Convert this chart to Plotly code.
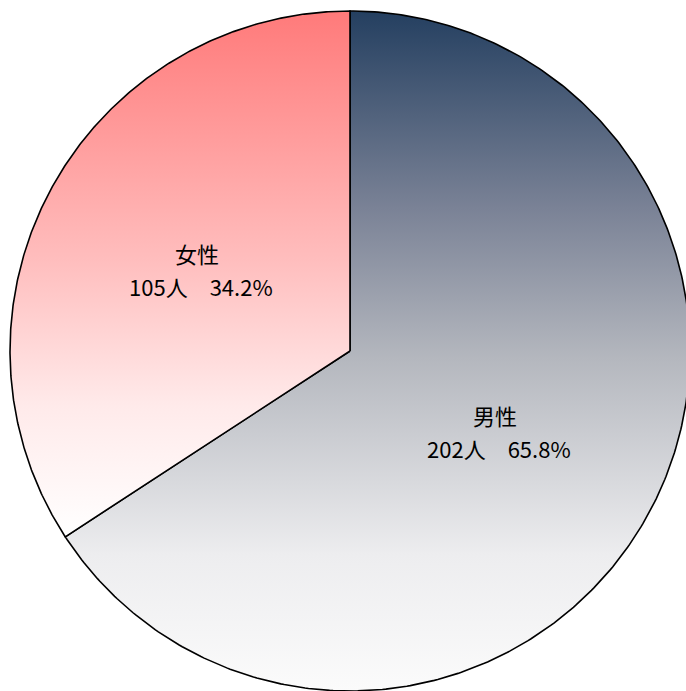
import numpy as np
import plotly.graph_objects as go

# ---- data ----
labels = ["男性", "女性"]
counts = [202, 105]
percents = ["65.8%", "34.2%"]

# gradient colour stops (bottom -> top) per slice
male_scale = [[0.0, "#FBFBFB"], [0.2, "#EDEDEF"], [0.49, "#B4B7BE"],
              [0.71, "#7A8296"], [1.0, "#243F60"]]
female_scale = [[0.0, "#FFFFFF"], [0.25, "#FFEAEA"], [0.53, "#FFBDBD"],
                [1.0, "#FF7A7A"]]
scales = [male_scale, female_scale]

# ---- geometry from data ----
total = sum(counts)
fracs = [c / total for c in counts]
start = 0.0  # clockwise from 12 o'clock, in fraction of full circle

fig = go.Figure()
label_pos = []
for lab, frac, sc in zip(labels, fracs, scales):
    a0 = start * 2 * np.pi
    a1 = (start + frac) * 2 * np.pi
    t = np.linspace(a0, a1, 400)
    xs = np.concatenate([[0.0], np.sin(t), [0.0]])
    ys = np.concatenate([[0.0], np.cos(t), [0.0]])
    fig.add_trace(go.Scatter(
        x=xs, y=ys, mode="lines", fill="toself",
        fillgradient=dict(type="vertical", colorscale=sc),
        line=dict(color="black", width=1.6),
        hoverinfo="skip", showlegend=False,
    ))
    mid = (start + frac / 2) * 2 * np.pi
    label_pos.append((0.5 * np.sin(mid), 0.5 * np.cos(mid)))
    start += frac

font = dict(family="Noto Sans CJK JP", size=22, color="black")
for lab, cnt, pct, (lx, ly) in zip(labels, counts, percents, label_pos):
    fig.add_annotation(x=lx, y=ly, text=lab, showarrow=False, font=font,
                       yshift=17, xshift=-4)
    fig.add_annotation(x=lx, y=ly, text=f"{cnt}人　{pct}", showarrow=False,
                       font=font, yshift=-16)

R = 340.0
W, H = 686, 691
cx, cy = 350.0, 351.0    # pie centre (pixels)
fig.update_layout(
    width=W, height=H,
    margin=dict(l=0, r=0, t=0, b=0),
    paper_bgcolor="white", plot_bgcolor="white",
    xaxis=dict(range=[(0 - cx) / R, (W - cx) / R], visible=False, fixedrange=True),
    yaxis=dict(range=[(cy - H) / R, cy / R], visible=False, fixedrange=True),
    showlegend=False,
)
fig.write_html(
    "out.html",
    config={"displayModeBar": False, "staticPlot": True},
    post_script="document.body.style.margin='0';document.body.style.overflow='hidden';",
)
